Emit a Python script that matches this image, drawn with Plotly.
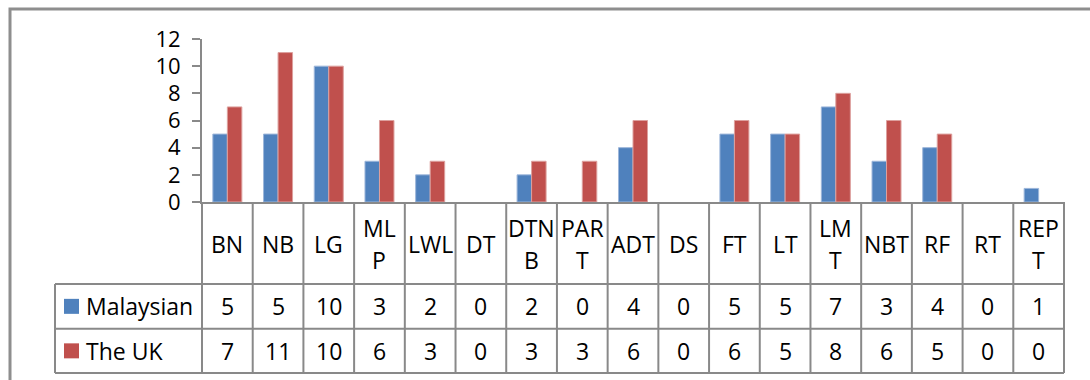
import plotly.graph_objects as go

# Categories (full names) and their wrapped header text in the data table
categories = ["BN", "NB", "LG", "MLP", "LWL", "DT", "DTNB", "PART", "ADT",
              "DS", "FT", "LT", "LMT", "NBT", "RF", "RT", "REPT"]
header_labels = ["BN", "NB", "LG", "ML\nP", "LWL", "DT", "DTN\nB", "PAR\nT", "ADT",
                 "DS", "FT", "LT", "LM\nT", "NBT", "RF", "RT", "REP\nT"]

series_names = ["Malaysian", "The UK"]
malaysian = [5, 5, 10, 3, 2, 0, 2, 0, 4, 0, 5, 5, 7, 3, 4, 0, 1]
the_uk = [7, 11, 10, 6, 3, 0, 3, 3, 6, 0, 6, 5, 8, 6, 5, 0, 0]

y_ticks = [0, 2, 4, 6, 8, 10, 12]

W, H = 1090, 380
FONT = "Open Sans"
FS = 23
TICK_FS = 22
GRID = "#898989"
colors = ["#4F81BD", "#C0504D"]
edges = ["#9DB6DA", "#DDA09E"]


def px(x):
    return x / W


def py(y):
    return 1 - y / H


# plot area and table geometry (pixels)
X0, X1 = 202, 1064
Y_TOP, Y_AXIS = 39, 202
ROW_HDR, ROW_1, ROW_2 = 284, 328.7, 373
LEG_X = 55
n = len(categories)
col_w = (X1 - X0) / n

fig = go.Figure()
for name, vals, c, e in zip(series_names, [malaysian, the_uk], colors, edges):
    fig.add_bar(x=categories, y=vals, name=name,
                marker=dict(color=c,
                            line=dict(color=e, width=[1 if v > 0 else 0 for v in vals])))

shapes = []
line = dict(color=GRID, width=2)
# outer chart frame
shapes.append(dict(type="rect", xref="paper", yref="paper",
                   x0=px(10), x1=px(1110), y0=py(9), y1=py(420),
                   line=dict(color="#8e8e8e", width=3)))
# table vertical lines
for i in range(n + 1):
    x = X0 + i * col_w
    shapes.append(dict(type="line", xref="paper", yref="paper",
                       x0=px(x), x1=px(x), y0=py(Y_AXIS), y1=py(ROW_2), line=line))
# legend column left border
shapes.append(dict(type="line", xref="paper", yref="paper",
                   x0=px(LEG_X), x1=px(LEG_X), y0=py(ROW_HDR), y1=py(ROW_2), line=line))
# table horizontal lines
for yy in [ROW_HDR, ROW_1, ROW_2]:
    shapes.append(dict(type="line", xref="paper", yref="paper",
                       x0=px(LEG_X), x1=px(X1), y0=py(yy), y1=py(yy), line=line))

annotations = []


def text(x, y, s, anchor="center"):
    annotations.append(dict(xref="paper", yref="paper", x=px(x), y=py(y), text=s,
                            showarrow=False, xanchor=anchor, yanchor="middle",
                            font=dict(family=FONT, size=FS, color="black")))


hdr_mid = (Y_AXIS + ROW_HDR) / 2 + 1
for i, lab in enumerate(header_labels):
    cx = X0 + (i + 0.5) * col_w
    parts = lab.split("\n")
    if len(parts) == 1:
        text(cx, hdr_mid, parts[0])
    else:
        text(cx, hdr_mid - 16, parts[0])
        text(cx, hdr_mid + 16, parts[1])

row_mids = [(ROW_HDR + ROW_1) / 2, (ROW_1 + ROW_2) / 2]
for vals, ym, name, c in zip([malaysian, the_uk], row_mids, series_names, colors):
    for i, v in enumerate(vals):
        text(X0 + (i + 0.5) * col_w, ym, str(v))
    shapes.append(dict(type="rect", xref="paper", yref="paper",
                       x0=px(64), x1=px(79), y0=py(ym - 7.5), y1=py(ym + 7.5),
                       fillcolor=c, line=dict(width=0)))
    text(84, ym, name, anchor="left")

fig.update_layout(
    width=W, height=H, autosize=False,
    margin=dict(l=0, r=0, t=0, b=0, pad=0, autoexpand=False),
    paper_bgcolor="white", plot_bgcolor="white",
    barmode="group", bargap=0.428, bargroupgap=0,
    showlegend=False,
    shapes=shapes, annotations=annotations,
    font=dict(family=FONT, size=FS, color="black"),
    xaxis=dict(domain=[px(X0), px(X1)], range=[-0.5, n - 0.5], automargin=False,
               showticklabels=False, ticks="", showgrid=False, zeroline=False,
               showline=True, linecolor=GRID, linewidth=2, fixedrange=True),
    yaxis=dict(domain=[py(Y_AXIS), py(Y_TOP)], range=[0, 12], automargin=False,
               tickvals=y_ticks, ticks="outside", ticklen=8, tickwidth=2,
               tickcolor=GRID, showgrid=False, zeroline=False,
               showline=True, linecolor=GRID, linewidth=2,
               tickfont=dict(family=FONT, size=TICK_FS, color="black"),
               ticklabelstandoff=7, fixedrange=True),
)

fig.write_html("out.html")
